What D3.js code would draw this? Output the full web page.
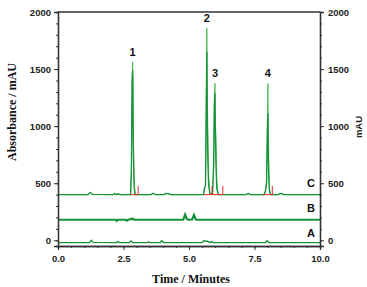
<!DOCTYPE html>
<html><head><meta charset="utf-8">
<script src="https://cdn.jsdelivr.net/npm/d3@7"></script>
<style>body{margin:0;background:#fff}svg{display:block}</style>
</head><body>
<script>
// ---- data ----
const cTime  = [0,1.15,1.23,1.31,2.1,2.17,2.24,2.3,2.36,2.77,2.80,2.83,2.85,2.87,2.88,2.91,2.95,3.55,3.63,3.72,4.05,4.12,4.22,4.3,5.55,5.6,5.63,5.66,5.68,5.70,5.72,5.75,5.8,5.9,5.94,5.97,5.99,6.01,6.03,6.06,6.12,7.18,7.26,7.34,7.86,7.92,7.96,7.99,8.01,8.03,8.05,8.08,8.13,8.4,8.47,8.55,8.62,10];
const cLight = [400,400,420,402,400,410,400,408,400,400,600,1400,1562,1250,900,500,400,400,412,400,400,410,408,400,400,470,480,1200,1857,1300,940,550,405,410,650,1250,1375,1000,900,520,400,400,410,400,400,440,520,1000,1375,1000,600,430,400,400,408,408,400,400];
const cDark  = [400,400,420,402,400,410,400,408,400,400,600,1400,1492,900,700,450,400,400,412,400,400,410,408,400,400,460,480,1200,1652,1000,700,480,405,410,650,1200,1293,900,650,450,400,400,410,400,400,430,500,900,1115,700,500,420,400,400,408,408,400,400];
const bTime  = [0,2.2,2.24,2.28,2.58,2.62,2.68,2.78,2.84,2.9,4.78,4.85,4.92,5.0,5.12,5.19,5.26,5.32,10];
const bValue = [180,180,170,180,180,172,180,185,190,180,180,225,185,180,182,222,182,180,180];
const aTime  = [0,1.2,1.27,1.34,2.22,2.28,2.34,2.72,2.79,2.86,3.4,3.46,3.52,3.9,3.96,4.03,5.5,5.57,5.65,5.72,5.8,5.86,5.92,7.92,7.98,8.05,10];
const aValue = [-20,-20,0,-18,-20,-12,-20,-20,-5,-20,-20,-14,-20,-20,-5,-20,-20,-5,-8,-8,-20,-10,-20,-20,-5,-20,-20];
const redStart = [2.75,5.57,7.83];
const redEnd   = [3.06,6.30,8.20];
const redSpikes = [3.06,5.88,6.29,8.18];
const redBase = 400, redTop = 475;
const peakLabels = ["1","2","3","4"];
const peakTimes  = [2.85,5.68,5.99,8.01];
const peakTops   = [1562,1857,1375,1375];
const traceNames = ["C","B","A"];
const traceLabelY = [470,250,30];
const xTicks = [0,2.5,5,7.5,10];
const yTicks = [0,500,1000,1500,2000];

// ---- chart ----
const W=367,H=287;
const svg=d3.select("body").append("svg").attr("width",W).attr("height",H);
const x=d3.scaleLinear().domain([0,10]).range([58,320]);
const y=d3.scaleLinear().domain([-50,2000]).range([246,12]);
const axisCol="#333";
const tickFont="bold 9.5px 'Liberation Sans', Arial, sans-serif";

const line=d3.line().x(d=>x(d[0])).y(d=>y(d[1]));
const green="#17923a", light="#52c05a";

svg.append("path").datum(aTime.map((t,i)=>[t,aValue[i]])).attr("d",line).attr("fill","none").attr("stroke",green).attr("stroke-width",1.4);
svg.append("path").datum(bTime.map((t,i)=>[t,bValue[i]])).attr("d",line).attr("fill","none").attr("stroke",green).attr("stroke-width",2.2);
svg.append("path").datum(cTime.map((t,i)=>[t,cLight[i]])).attr("d",line).attr("fill","none").attr("stroke",light).attr("stroke-width",1);
svg.append("path").datum(cTime.map((t,i)=>[t,cDark[i]])).attr("d",line).attr("fill","none").attr("stroke",green).attr("stroke-width",1.3);

const red="#ee2a2a";
redStart.forEach((s,i)=>{
  svg.append("line").attr("x1",x(s)).attr("x2",x(redEnd[i])).attr("y1",y(redBase)).attr("y2",y(redBase)).attr("stroke",red).attr("stroke-width",1);
});
svg.selectAll(".spk").data(redSpikes).join("line").attr("x1",d=>x(d)).attr("x2",d=>x(d)).attr("y1",y(redBase)).attr("y2",y(redTop)).attr("stroke",red).attr("stroke-width",1);

const gL=svg.append("g").attr("transform","translate(58,0)");
gL.call(d3.axisLeft(y).tickValues(d3.range(0,2001,100)).tickSize(2).tickFormat(""));
gL.append("g").call(d3.axisLeft(y).tickValues(yTicks).tickSize(4).tickPadding(3).tickFormat(d3.format("d")));
const gR=svg.append("g").attr("transform","translate(320,0)");
gR.call(d3.axisRight(y).tickValues(d3.range(0,2001,100)).tickSize(2).tickFormat(""));
gR.append("g").call(d3.axisRight(y).tickValues(yTicks).tickSize(4).tickPadding(4).tickFormat(d3.format("d")));
const gB=svg.append("g").attr("transform","translate(0,246)");
gB.call(d3.axisBottom(x).tickValues(d3.range(0,10.01,0.5)).tickSize(2).tickFormat(""));
gB.append("g").call(d3.axisBottom(x).tickValues(xTicks).tickSize(4).tickPadding(5).tickFormat(d3.format(".1f")));
svg.selectAll(".domain").attr("stroke",axisCol).attr("stroke-width",1.3);
svg.selectAll(".tick line").attr("stroke",axisCol);
svg.selectAll(".tick text").style("font",tickFont).attr("fill","#222");
svg.append("line").attr("x1",58).attr("x2",320).attr("y1",y(2000)).attr("y2",y(2000)).attr("stroke",axisCol).attr("stroke-width",1.3);

svg.selectAll(".pl").data(peakLabels).join("text")
  .attr("x",(d,i)=>x(peakTimes[i])).attr("y",(d,i)=>y(peakTops[i])-6)
  .attr("text-anchor","middle").style("font","bold 11px 'Liberation Sans', Arial, sans-serif").attr("fill","#111").text(d=>d);
svg.selectAll(".tn").data(traceNames).join("text")
  .attr("x",311).attr("y",(d,i)=>y(traceLabelY[i]))
  .attr("text-anchor","middle").style("font","bold 11px 'Liberation Sans', Arial, sans-serif").attr("fill","#111").text(d=>d);

svg.append("text").attr("transform","translate(16,112) rotate(-90)").attr("text-anchor","middle")
  .style("font","bold 12px 'Liberation Serif', 'Times New Roman', serif").attr("fill","#111").text("Absorbance / mAU");
svg.append("text").attr("transform","translate(362,127) rotate(-90)").attr("text-anchor","middle")
  .style("font","bold 9.5px 'Liberation Sans', Arial, sans-serif").attr("fill","#222").text("mAU");
svg.append("text").attr("x",191).attr("y",283).attr("text-anchor","middle")
  .style("font","bold 12px 'Liberation Serif', 'Times New Roman', serif").attr("fill","#111").text("Time / Minutes");
</script>
</body></html>
